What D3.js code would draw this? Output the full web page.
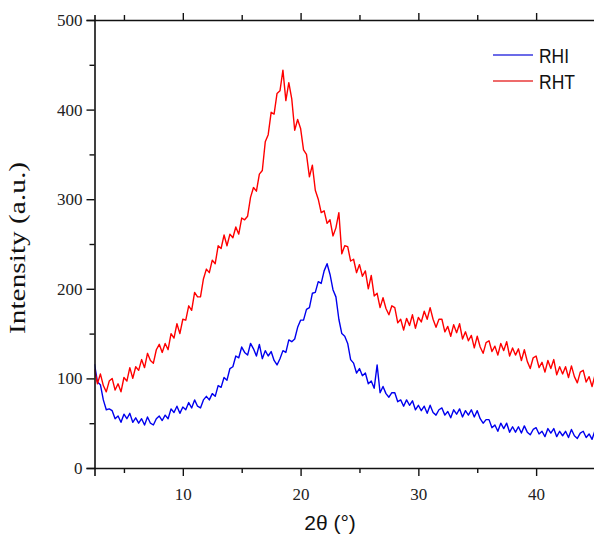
<!DOCTYPE html>
<html>
<head>
<meta charset="utf-8">
<script src="https://cdn.jsdelivr.net/npm/d3@7"></script>
<style>
  html, body { margin: 0; padding: 0; background: #fff; }
  svg { display: block; }
</style>
</head>
<body>
<svg id="chart" width="594" height="534"></svg>
<script>
// 2θ scan positions (degrees)
const angles = [
  2.5, 2.75, 3, 3.25, 3.5, 3.75, 4, 4.25, 4.5, 4.75,
  5, 5.25, 5.5, 5.75, 6, 6.25, 6.5, 6.75, 7, 7.25,
  7.5, 7.75, 8, 8.25, 8.5, 8.75, 9, 9.25, 9.5, 9.75,
  10, 10.25, 10.5, 10.75, 11, 11.25, 11.5, 11.75, 12, 12.25,
  12.5, 12.75, 13, 13.25, 13.5, 13.75, 14, 14.25, 14.5, 14.75,
  15, 15.25, 15.5, 15.75, 16, 16.25, 16.5, 16.75, 17, 17.25,
  17.5, 17.75, 18, 18.25, 18.5, 18.75, 19, 19.25, 19.5, 19.75,
  20, 20.25, 20.5, 20.75, 21, 21.25, 21.5, 21.75, 22, 22.25,
  22.5, 22.75, 23, 23.25, 23.5, 23.75, 24, 24.25, 24.5, 24.75,
  25, 25.25, 25.5, 25.75, 26, 26.25, 26.5, 26.75, 27, 27.25,
  27.5, 27.75, 28, 28.25, 28.5, 28.75, 29, 29.25, 29.5, 29.75,
  30, 30.25, 30.5, 30.75, 31, 31.25, 31.5, 31.75, 32, 32.25,
  32.5, 32.75, 33, 33.25, 33.5, 33.75, 34, 34.25, 34.5, 34.75,
  35, 35.25, 35.5, 35.75, 36, 36.25, 36.5, 36.75, 37, 37.25,
  37.5, 37.75, 38, 38.25, 38.5, 38.75, 39, 39.25, 39.5, 39.75,
  40, 40.25, 40.5, 40.75, 41, 41.25, 41.5, 41.75, 42, 42.25,
  42.5, 42.75, 43, 43.25, 43.5, 43.75, 44, 44.25, 44.5, 44.75,
  45
];

// RHI intensity (a.u.)
const rhi = [
  116, 96, 93, 76, 65, 66, 64, 55, 58, 51,
  60, 55, 61, 51, 56, 50, 55, 48, 57, 50,
  48, 55, 58, 53, 59, 55, 66, 62, 69, 61,
  68, 65, 73, 67, 76, 69, 67, 76, 80, 76,
  83, 80, 92, 90, 101, 98, 111, 113, 125, 123,
  135, 129, 126, 139, 133, 125, 138, 122, 131, 125,
  130, 120, 115, 122, 131, 129, 143, 141, 144, 157,
  165, 165, 177, 179, 195, 196, 208, 206, 220, 228,
  216, 199, 191, 166, 150, 147, 139, 121, 117, 106,
  111, 103, 106, 94, 97, 89, 115, 84, 91, 83,
  79, 84, 84, 74, 76, 69, 76, 70, 75, 65,
  70, 64, 69, 61, 70, 62, 59, 65, 67, 59,
  63, 56, 65, 60, 66, 57, 64, 59, 65, 57,
  64, 55, 50, 54, 54, 45, 48, 41, 50, 44,
  50, 40, 46, 40, 46, 39, 47, 40, 37, 43,
  45, 38, 41, 35, 44, 39, 44, 35, 41, 36,
  41, 34, 43, 36, 33, 39, 41, 34, 38, 32,
  42
];

// RHT intensity (a.u.)
const rht = [
  110, 94, 105, 92, 85, 97, 100, 87, 94, 85,
  101, 97, 112, 100, 113, 109, 121, 112, 128, 120,
  117, 132, 138, 129, 139, 132, 150, 145, 161, 150,
  166, 165, 181, 176, 196, 191, 191, 211, 222, 218,
  232, 228, 248, 245, 260, 248, 261, 257, 269, 261,
  279, 277, 281, 302, 313, 309, 328, 332, 364, 372,
  397, 395, 418, 421, 444, 410, 430, 412, 377, 389,
  379, 355, 350, 325, 338, 310, 300, 285, 287, 273,
  277, 259, 268, 285, 239, 248, 247, 231, 233, 218,
  227, 214, 220, 200, 215, 192, 195, 179, 190, 178,
  171, 181, 179, 162, 166, 154, 167, 159, 171, 156,
  168, 163, 175, 166, 179, 166, 157, 166, 166, 152,
  158, 147, 160, 151, 161, 144, 152, 142, 148, 134,
  147, 135, 128, 140, 142, 130, 136, 126, 139, 131,
  141, 125, 134, 126, 133, 120, 132, 119, 111, 123,
  125, 112, 118, 107, 120, 111, 121, 104, 113, 105,
  113, 101, 114, 102, 95, 107, 109, 96, 102, 91,
  104
];

const seriesNames = ["RHI", "RHT"];
const seriesColors = ["#0000ee", "#ff0000"];
const legendColors = ["#3a3ae0", "#e83a3a"];
const xTicksMajor = [10, 20, 30, 40];
const xTicksMinor = [5, 15, 25, 35, 45];
const yTicksMajor = [0, 100, 200, 300, 400, 500];
const yTicksMinor = [50, 150, 250, 350, 450];

const svg = d3.select("#chart");
const mLeft = 94.5, mRight = 595, mTop = 20, mBottom = 468;

const x = d3.scaleLinear().domain([2.5, 45]).range([mLeft, mRight]);
const y = d3.scaleLinear().domain([0, 500]).range([mBottom, mTop]);

svg.append("defs").append("clipPath").attr("id", "plotclip")
  .append("rect").attr("x", mLeft).attr("y", mTop)
  .attr("width", mRight - mLeft).attr("height", mBottom - mTop);

const line = d3.line().x(d => x(d[0])).y(d => y(d[1]));

[rhi, rht].forEach((vals, i) => {
  svg.append("path")
    .datum(angles.map((a, j) => [a, vals[j]]))
    .attr("clip-path", "url(#plotclip)")
    .attr("fill", "none")
    .attr("stroke", seriesColors[i])
    .attr("stroke-width", 1.4)
    .attr("stroke-linejoin", "round")
    .attr("d", line);
});

const tickFont = "'Liberation Serif', 'Times New Roman', serif";

// Left axis
svg.append("g").attr("transform", `translate(${mLeft},0)`)
  .call(d3.axisLeft(y).tickValues(yTicksMajor).tickSize(8).tickPadding(4));
svg.append("g").attr("transform", `translate(${mLeft},0)`)
  .call(d3.axisLeft(y).tickValues(yTicksMinor).tickSize(5).tickFormat(""))
  .select(".domain").remove();

// Bottom axis
svg.append("g").attr("transform", `translate(0,${mBottom})`)
  .call(d3.axisBottom(x).tickValues(xTicksMajor).tickSize(8).tickPadding(12));
svg.append("g").attr("transform", `translate(0,${mBottom})`)
  .call(d3.axisBottom(x).tickValues(xTicksMinor).tickSize(5).tickFormat(""))
  .select(".domain").remove();

// Top axis
svg.append("g").attr("transform", `translate(0,${mTop})`)
  .call(d3.axisTop(x).tickValues(xTicksMinor).tickSize(5).tickFormat(""));
svg.append("g").attr("transform", `translate(0,${mTop})`)
  .call(d3.axisTop(x).tickValues(xTicksMajor).tickSize(7).tickFormat(""))
  .select(".domain").remove();

svg.selectAll(".domain").attr("stroke", "#111").attr("stroke-width", 1.6);
svg.selectAll(".tick line").attr("stroke", "#111").attr("stroke-width", 1.4);
svg.selectAll(".tick text")
  .attr("font-family", tickFont)
  .attr("font-size", 17)
  .attr("fill", "#222");

// Axis titles
svg.append("text")
  .attr("x", 330).attr("y", 530)
  .attr("text-anchor", "middle")
  .attr("font-family", "'Liberation Sans', Arial, sans-serif")
  .attr("font-size", 21)
  .attr("fill", "#111")
  .text("2θ (°)");

svg.append("text")
  .attr("transform", "translate(25,248) rotate(-90)")
  .attr("text-anchor", "middle")
  .attr("font-family", tickFont)
  .attr("font-size", 23)
  .attr("textLength", 172)
  .attr("lengthAdjust", "spacingAndGlyphs")
  .attr("fill", "#111")
  .text("Intensity (a.u.)");

// Legend
const legend = svg.append("g");
const legendWidths = [30, 36];
seriesNames.forEach((name, i) => {
  const ly = 55 + i * 26;
  legend.append("line")
    .attr("x1", 493).attr("x2", 533)
    .attr("y1", ly).attr("y2", ly)
    .attr("stroke", legendColors[i])
    .attr("stroke-width", 1.5);
  legend.append("text")
    .attr("x", 539).attr("y", ly + 8)
    .attr("font-family", "'Liberation Sans', Arial, sans-serif")
    .attr("font-size", 21)
    .attr("textLength", legendWidths[i])
    .attr("lengthAdjust", "spacingAndGlyphs")
    .attr("fill", "#111")
    .text(name);
});
</script>
</body>
</html>
